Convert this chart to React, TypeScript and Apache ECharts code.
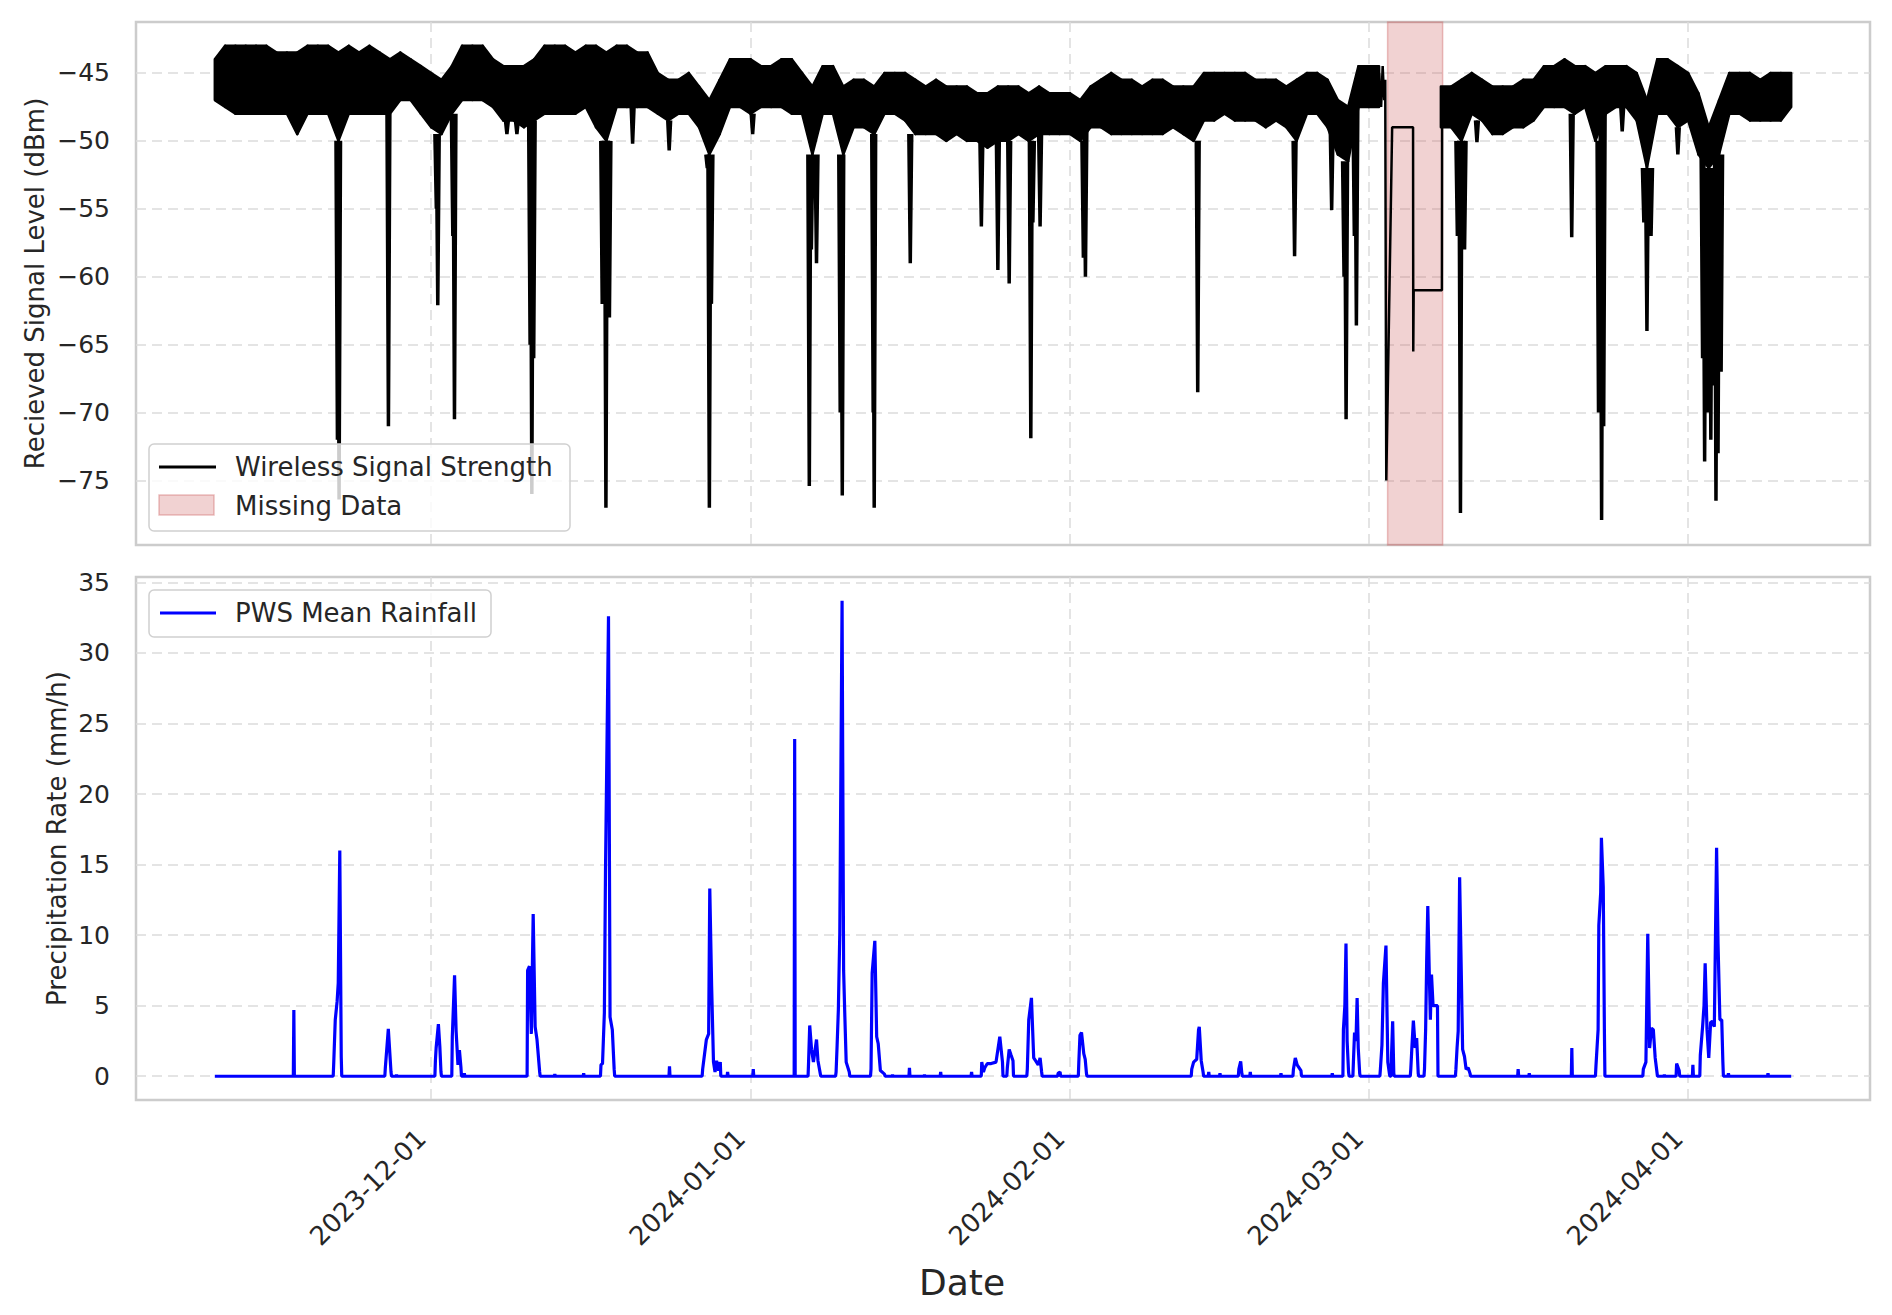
import React, { useEffect, useRef } from 'react';
import * as echarts from 'echarts';

// ---- data (day offsets are relative to 2023-12-01 00:00 UTC) ----
const BASE_DATE = Date.UTC(2023, 11, 1);
const DAY_MS = 86400000;
const FIRST_DAY = -21; // 2023-11-10, one value per day after that

// daily upper / lower edge of the received-signal band (dBm); null = no data
const signalUpper = [
  -44, -43, -43, -43, -43, -43, -43.5, -43.5, -43.5, -43,
  -43, -43, -43.5, -43, -43.5, -43, -43.5, -44, -43.5, -44,
  -44.5, -45, -45.5, -44.5, -43, -43, -43, -44, -44.5, -44.5,
  -44.5, -44, -43, -43, -43, -43.5, -43, -43, -43.5, -43,
  -43, -43.5, -43.5, -45, -45.5, -45.5, -45, -46, -47, -45.5,
  -44, -44, -44, -44.5, -44.5, -44, -44, -45, -46, -44.5,
  -44.5, -46, -45.5, -45.5, -46, -45, -45, -45, -45.5, -46,
  -45.5, -46, -46, -46, -46.5, -46.5, -46, -46, -46, -46.5,
  -46, -46.5, -46.5, -46.5, -47, -46, -45.5, -45, -45.5, -45.5,
  -46, -45.5, -45.5, -46, -46, -46, -45, -45, -45, -45,
  -45, -45.5, -45.5, -45.5, -46, -45.5, -45, -45, -45.5, -47,
  -47.5, -44.5, -44.5, -44.5, null, null, null, null, null, -46,
  -46, -45.5, -45, -45.5, -46, -46, -46, -45.5, -45.5, -44.5,
  -44.5, -44, -44.5, -44.5, -45, -44.5, -44.5, -44.5, -45, -47,
  -44, -44, -44.5, -45, -46.5, -49, -47, -45, -45, -45,
  -45.5, -45, -45, -45,
];
const signalLower = [
  -47, -47.5, -48, -48, -48, -48, -48, -48, -49.5, -48,
  -48, -48, -50, -48, -48, -48, -48, -48, -47, -47,
  -48, -49, -49.5, -48, -47, -47, -47, -47.5, -48.5, -48.5,
  -49, -48.5, -48, -48, -48, -48, -47.5, -49, -50, -47.5,
  -47.5, -47.5, -47.5, -48, -48.5, -48, -48, -49, -51, -49.5,
  -47.5, -47.5, -48, -47.5, -47.5, -47.5, -48, -48, -51, -48,
  -48, -51, -49, -49, -49.5, -48, -48, -48.5, -49.5, -49.5,
  -49.5, -50, -49.5, -50, -50, -50.5, -50, -50, -49.5, -50,
  -49.5, -49.5, -49.5, -49.5, -50, -49, -49, -49.5, -49.5, -49.5,
  -49.5, -49.5, -49.5, -49, -49.5, -50, -48.5, -48.5, -48, -48.5,
  -48.5, -48.5, -49, -48.5, -49, -50, -48, -48, -49, -51,
  -51.5, -47.5, -47.5, -47.5, null, null, null, null, null, -49,
  -49, -50, -48, -48.5, -49.5, -49.5, -49, -49, -48.5, -47.5,
  -47.5, -47.5, -48, -47.5, -50, -48, -47.5, -47.5, -48.5, -52,
  -48, -48, -49, -48.5, -51, -52, -51, -48, -48, -48.5,
  -48.5, -48.5, -48.5, -47.5,
];

// sharp fades below the band: [day offset, minimum dBm]
const signalDips = [
  [-9.1, -72], [-8.94, -76.4], [-4.15, -71], [0.5, -55], [0.64, -62.1],
  [2.1, -57], [2.26, -70.5], [7.35, -49.5], [8.32, -49.5], [9.6, -65],
  [9.77, -76], [9.95, -66], [16.6, -62], [16.96, -77], [17.3, -63],
  [19.55, -50.2], [23.1, -50.7], [26.8, -52], [27.0, -77], [27.2, -62],
  [31.2, -49.5], [36.7, -75.4], [36.9, -58], [37.4, -59], [39.7, -70],
  [39.9, -76.1], [42.9, -70], [43.0, -77], [46.5, -59], [53.4, -56.3],
  [55.0, -59.5], [56.1, -60.5], [58.2, -71.9], [58.4, -56], [59.1, -56.3],
  [63.3, -58.6], [63.5, -60], [74.4, -68.5], [83.8, -58.5], [87.4, -55.1],
  [88.6, -60], [88.8, -70.5], [89.6, -57], [89.8, -63.6], [99.6, -57],
  [99.9, -77.4], [100.3, -58], [101.5, -50.1], [110.7, -57.1], [113.3, -70],
  [113.6, -77.9], [113.8, -71], [115.6, -49.3], [117.7, -56], [118.0, -64],
  [118.4, -57], [121.0, -51], [123.4, -66], [123.6, -73.6], [123.9, -70],
  [124.2, -72], [124.4, -68], [124.7, -76.5], [124.9, -73], [125.2, -67],
];

// the few samples around / inside the missing-data span
const missingTrace = [
  [92.0, -45], [92.2, -47.5], [92.35, -44.5], [92.5, -47], [92.6, -45.5],
  [92.7, -75], [93.27, -49], [95.3, -49], [95.32, -65.5], [95.36, -61],
  [98.1, -61], [98.12, -46], [98.3, -48],
];
const missingSpan = [92.83, 98.17];

// rainfall bursts (mm/h): each cluster is a run of [day offset, value]
const rainClusters = [
  [[-13.33, 4.7]],
  [[-9.46, 0.9], [-9.31, 4.0], [-9.13, 5.3], [-9.02, 6.6], [-8.87, 16.0], [-8.73, 1.4]],
  [[-4.45, 0.6], [-4.16, 3.35], [-3.9, 0.3]],
  [[-3.36, 0.1]],
  [[0.41, 1.1], [0.48, 2.0], [0.7, 3.7], [0.84, 2.1], [0.95, 0.3]],
  [[2.05, 2.8], [2.27, 7.15], [2.42, 3.2], [2.6, 0.8], [2.74, 1.85], [2.89, 0.6]],
  [[3.22, 0.2]],
  [[9.36, 7.5], [9.54, 7.8], [9.72, 3.0], [9.9, 11.5], [10.09, 3.5], [10.27, 2.6], [10.53, 0.3]],
  [[12.0, 0.15]],
  [[14.8, 0.2]],
  [[16.48, 0.8], [16.63, 0.9], [16.81, 4.5], [16.92, 14.7], [17.21, 32.6], [17.36, 4.2], [17.58, 3.3], [17.76, 0.5]],
  [[23.13, 0.7]],
  [[26.35, 0.5], [26.71, 2.6], [26.93, 3.0], [27.04, 13.3], [27.22, 6.4], [27.4, 1.0], [27.55, 0.3], [27.7, 1.1], [27.9, 0.4], [28.06, 1.0]],
  [[28.77, 0.3]],
  [[31.26, 0.5]],
  [[35.28, 23.9]],
  [[36.63, 1.0], [36.74, 3.6], [36.92, 1.9], [37.1, 1.0], [37.4, 2.6], [37.54, 1.1], [37.76, 0.2]],
  [[39.3, 0.3], [39.4, 2.2], [39.52, 4.7], [39.66, 10.2], [39.88, 33.7], [40.03, 7.5], [40.14, 4.5], [40.28, 1.0], [40.58, 0.3]],
  [[42.69, 0.5], [42.8, 7.3], [43.06, 9.6], [43.24, 2.8], [43.39, 2.3], [43.6, 0.4], [44.0, 0.15]],
  [[44.78, 0.1]],
  [[46.42, 0.6]],
  [[47.88, 0.1]],
  [[49.45, 0.3]],
  [[52.45, 0.3]],
  [[53.44, 1.0], [53.6, 0.3], [53.73, 0.6], [53.98, 0.9], [54.35, 0.9], [54.82, 1.0], [55.19, 2.8], [55.45, 1.0]],
  [[55.92, 0.6], [56.1, 1.9], [56.28, 1.5], [56.47, 1.1]],
  [[57.86, 0.5], [58.0, 4.0], [58.26, 5.55], [58.48, 1.3], [58.66, 1.1], [58.92, 0.8], [59.1, 1.3], [59.25, 0.3]],
  [[60.85, 0.2], [61.04, 0.3]],
  [[62.86, 1.0], [62.97, 2.9], [63.12, 3.1], [63.34, 1.6], [63.48, 1.2], [63.6, 0.2]],
  [[73.82, 0.5], [74.0, 1.0], [74.3, 1.2], [74.48, 3.3], [74.55, 3.5], [74.74, 1.1], [74.92, 0.3]],
  [[75.47, 0.3]],
  [[76.56, 0.2]],
  [[78.39, 0.5], [78.57, 1.05], [78.68, 0.2]],
  [[79.5, 0.3]],
  [[82.48, 0.2]],
  [[83.69, 0.5], [83.87, 1.3], [84.05, 0.8], [84.42, 0.4]],
  [[87.46, 0.2]],
  [[88.54, 3.3], [88.68, 5.0], [88.79, 9.4], [88.9, 2.5], [89.04, 0.3]],
  [[89.51, 1.0], [89.62, 3.1], [89.76, 2.5], [89.87, 5.55], [89.98, 2.0], [90.12, 0.2]],
  [[92.13, 0.5], [92.28, 2.2], [92.42, 6.6], [92.67, 9.26], [92.85, 1.0], [93.0, 0.2]],
  [[93.21, 1.5], [93.32, 3.9], [93.43, 0.2]],
  [[95.08, 0.5], [95.19, 2.1], [95.33, 3.95], [95.51, 2.0], [95.65, 2.7], [95.8, 0.2]],
  [[96.41, 0.5], [96.52, 3.3], [96.62, 8.1], [96.73, 12.06], [96.88, 7.1], [96.98, 4.0], [97.09, 7.2], [97.24, 5.0], [97.67, 5.0]],
  [[99.46, 0.5], [99.57, 2.0], [99.68, 3.2], [99.82, 14.1], [99.97, 7.8], [100.11, 1.9], [100.29, 1.4], [100.45, 0.5], [100.65, 0.6], [100.83, 0.2]],
  [[105.5, 0.5]],
  [[106.58, 0.2]],
  [[110.71, 2.0]],
  [[113.05, 0.7], [113.26, 3.3], [113.33, 10.7], [113.51, 13.0], [113.58, 16.9], [113.76, 13.4], [113.87, 3.3]],
  [[117.65, 0.5], [117.9, 1.0], [118.08, 10.1], [118.26, 2.0], [118.44, 3.4], [118.62, 3.3], [118.8, 1.3], [118.97, 0.3]],
  [[119.69, 0.1]],
  [[120.88, 0.9], [121.13, 0.4]],
  [[122.46, 0.8]],
  [[123.18, 1.5], [123.4, 3.5], [123.54, 5.0], [123.65, 8.0], [123.83, 3.3], [124.0, 1.3], [124.18, 3.8], [124.36, 3.9], [124.54, 3.5], [124.76, 16.2], [124.9, 9.4], [125.08, 4.0], [125.26, 4.0], [125.37, 1.0]],
  [[125.91, 0.2]],
  [[129.75, 0.2]],
];

const monthTicks = ['2023-12-01', '2024-01-01', '2024-02-01', '2024-03-01', '2024-04-01'];
const signalTicks = [-75, -70, -65, -60, -55, -50, -45];
const rainTicks = [0, 5, 10, 15, 20, 25, 30, 35];
const signalRange = [-79.75, -41.25];
const rainRange = [-1.685, 35.385];

// ---- helpers ----
const t = (d: number) => BASE_DATE + d * DAY_MS;
const FONT = 'DejaVu Sans';
const TEXT = '#262626';
const GRID_LINE = { show: true, lineStyle: { color: '#dcdcdc', width: 1.5, type: [10, 6] } };
const minusFmt = (v: number) => (v < 0 ? '\u2212' + Math.abs(v) : String(v));
const dateFmt = (v: number) => new Date(v).toISOString().slice(0, 10);

function buildOption() {
  const lastDay = FIRST_DAY + signalUpper.length - 1;
  const span = lastDay - FIRST_DAY;
  const xMin = t(FIRST_DAY - 0.05 * span);
  const xMax = t(lastDay + 0.05 * span);
  const monthValues = monthTicks.map((s) => Date.parse(s + 'T00:00:00Z'));

  // band segments between consecutive days: [t0, lower0, upper0, t1, lower1, upper1]
  const bandSegments: number[][] = [];
  for (let i = 0; i < signalUpper.length - 1; i++) {
    const u0 = signalUpper[i], l0 = signalLower[i], u1 = signalUpper[i + 1], l1 = signalLower[i + 1];
    if (u0 == null || l0 == null || u1 == null || l1 == null) continue;
    bandSegments.push([t(FIRST_DAY + i), l0, u0, t(FIRST_DAY + i + 1), l1, u1]);
  }

  const dipData: any[] = [];
  signalDips.forEach(([d, v]) => {
    const idx = Math.round(d) - FIRST_DAY;
    const base = signalLower[idx] == null ? -47.5 : signalLower[idx];
    dipData.push([t(d - 0.14), base], [t(d), v], [t(d + 0.14), base], [t(d + 0.14), '-']);
  });

  const rainData: any[] = [[t(FIRST_DAY), 0]];
  rainClusters.forEach((c) => {
    rainData.push([t(c[0][0] - 0.05), 0]);
    c.forEach(([d, v]) => rainData.push([t(d), v]));
    rainData.push([t(c[c.length - 1][0] + 0.05), 0]);
  });
  rainData.push([t(lastDay), 0]);

  const xBase = {
    type: 'value',
    min: xMin,
    max: xMax,
    axisLine: { show: false },
    axisTick: { show: false, customValues: monthValues },
    splitLine: GRID_LINE,
  };
  const yLabel = { fontSize: 25, color: TEXT, fontFamily: FONT, margin: 26, formatter: minusFmt };

  return {
    animation: false,
    backgroundColor: '#ffffff',
    textStyle: { fontFamily: FONT },
    grid: [
      { left: 136, top: 22, width: 1734, height: 523, show: true, borderColor: '#cccccc', borderWidth: 2.5, backgroundColor: 'transparent', outerBoundsMode: 'none', containLabel: false },
      { left: 136, top: 577, width: 1734, height: 523, show: true, borderColor: '#cccccc', borderWidth: 2.5, backgroundColor: 'transparent', outerBoundsMode: 'none', containLabel: false },
    ],
    xAxis: [
      { ...xBase, gridIndex: 0, axisLabel: { show: false, customValues: monthValues } },
      {
        ...xBase,
        gridIndex: 1,
        axisLabel: {
          show: true, customValues: monthValues, rotate: 45, margin: 24, padding: [0, 14, 0, 0],
          fontSize: 26, color: TEXT, fontFamily: FONT, formatter: dateFmt,
        },
      },
    ],
    yAxis: [
      {
        type: 'value', gridIndex: 0, min: signalRange[0], max: signalRange[1], splitNumber: 8,
        axisLine: { show: false }, axisTick: { show: false, customValues: signalTicks },
        axisLabel: { ...yLabel, customValues: signalTicks },
        splitLine: GRID_LINE,
        name: 'Recieved Signal Level (dBm)', nameLocation: 'middle', nameGap: 88, nameMoveOverlap: false,
        nameTextStyle: { fontSize: 26, color: TEXT, fontFamily: FONT },
      },
      {
        type: 'value', gridIndex: 1, min: rainRange[0], max: rainRange[1], splitNumber: 7,
        axisLine: { show: false }, axisTick: { show: false, customValues: rainTicks },
        axisLabel: { ...yLabel, customValues: rainTicks },
        splitLine: GRID_LINE,
        name: 'Precipitation Rate (mm/h)', nameLocation: 'middle', nameGap: 66, nameMoveOverlap: false,
        nameTextStyle: { fontSize: 26, color: TEXT, fontFamily: FONT },
      },
    ],
    series: [
      {
        name: 'Wireless Signal Strength', type: 'custom', xAxisIndex: 0, yAxisIndex: 0, z: 3, clip: true,
        data: bandSegments,
        encode: { x: [0, 3], y: [1, 2, 4, 5] },
        renderItem: (params: any, api: any) => {
          const a = api.coord([api.value(0), api.value(1)]);
          const b = api.coord([api.value(3), api.value(4)]);
          const c = api.coord([api.value(3), api.value(5)]);
          const d = api.coord([api.value(0), api.value(2)]);
          return {
            type: 'polygon',
            shape: { points: [a, b, c, d] },
            style: { fill: '#000', stroke: '#000', lineWidth: 2.5, lineJoin: 'round' },
          };
        },
      },
      {
        name: 'Wireless Signal Strength', type: 'line', xAxisIndex: 0, yAxisIndex: 0,
        data: dipData, symbol: 'none', z: 3,
        lineStyle: { color: '#000', width: 3.5 }, itemStyle: { color: '#000' },
      },
      {
        name: 'Wireless Signal Strength', type: 'line', xAxisIndex: 0, yAxisIndex: 0,
        data: missingTrace.map(([d, v]) => [t(d), v]), symbol: 'none', z: 3,
        lineStyle: { color: '#000', width: 2.5 }, itemStyle: { color: '#000' },
        markArea: {
          silent: true, z: 1,
          label: { show: false },
          itemStyle: { color: 'rgba(205,92,92,0.28)', borderColor: 'rgba(205,92,92,0.38)', borderWidth: 1.5 },
          data: [[{ xAxis: t(missingSpan[0]) }, { xAxis: t(missingSpan[1]) }]],
        },
      },
      {
        name: 'PWS Mean Rainfall', type: 'line', xAxisIndex: 1, yAxisIndex: 1,
        data: rainData, symbol: 'none', z: 3,
        lineStyle: { color: '#0000ff', width: 3.2 }, itemStyle: { color: '#0000ff' },
      },
    ],
    graphic: [
      { type: 'rect', z: 100, shape: { x: 149, y: 444, width: 421, height: 87, r: 5 }, style: { fill: 'rgba(255,255,255,0.8)', stroke: '#d0d0d0', lineWidth: 1.5 } },
      { type: 'line', z: 101, shape: { x1: 159, y1: 467, x2: 216, y2: 467 }, style: { stroke: '#000', lineWidth: 3 } },
      { type: 'rect', z: 101, shape: { x: 159, y: 495, width: 55, height: 20 }, style: { fill: 'rgba(205,92,92,0.28)', stroke: 'rgba(205,92,92,0.38)', lineWidth: 1.5 } },
      { type: 'text', z: 101, x: 235, y: 467, style: { text: 'Wireless Signal Strength', font: `26px "${FONT}"`, fill: TEXT, verticalAlign: 'middle' } },
      { type: 'text', z: 101, x: 235, y: 506, style: { text: 'Missing Data', font: `26px "${FONT}"`, fill: TEXT, verticalAlign: 'middle' } },
      { type: 'rect', z: 100, shape: { x: 149, y: 590, width: 342, height: 47, r: 5 }, style: { fill: 'rgba(255,255,255,0.8)', stroke: '#d0d0d0', lineWidth: 1.5 } },
      { type: 'line', z: 101, shape: { x1: 160, y1: 613, x2: 216, y2: 613 }, style: { stroke: '#0000ff', lineWidth: 3 } },
      { type: 'text', z: 101, x: 235, y: 613, style: { text: 'PWS Mean Rainfall', font: `26px "${FONT}"`, fill: TEXT, verticalAlign: 'middle' } },
      { type: 'text', z: 101, x: 962, y: 1282, style: { text: 'Date', font: `36px "${FONT}"`, fill: TEXT, align: 'center', verticalAlign: 'middle' } },
    ],
  };
}

export default function App() {
  const ref = useRef<HTMLDivElement>(null);
  useEffect(() => {
    if (!ref.current) return;
    const chart = echarts.init(ref.current, null, { renderer: 'svg' });
    chart.setOption(buildOption() as any);
    return () => chart.dispose();
  }, []);
  return (
    <div
      ref={ref}
      style={{ position: 'absolute', left: 0, top: 0, width: 1892, height: 1315, background: '#fff' }}
    />
  );
}
